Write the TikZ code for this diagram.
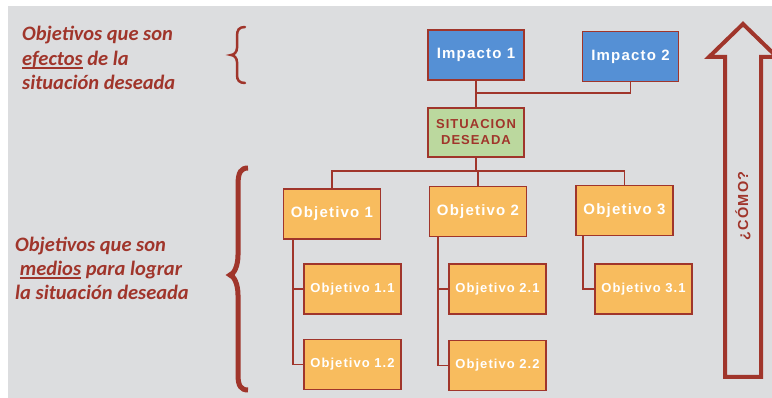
\documentclass[tikz,border=0pt]{standalone}
\usepackage{fontspec}
\setmainfont{Carlito}
\newfontfamily\boxfont[LetterSpace=8]{Liberation Sans}
\definecolor{fondo}{HTML}{DCDDDF}
\definecolor{rojo}{HTML}{A0352B}
\definecolor{azul}{HTML}{5590D5}
\definecolor{naranja}{HTML}{F8BC5E}
\definecolor{verde}{HTML}{BBD89E}
\newlength\anchosub
\newcommand\subrayado[1]{\settowidth\anchosub{#1}\rlap{\rule[-3.5pt]{\anchosub}{1.5pt}}#1}
\begin{document}
\begin{tikzpicture}[x=1pt, y=-1pt,
   caja/.style={draw=rojo, line width=1.3pt, inner sep=0pt, text=white,
                font=\boxfont\bfseries\fontsize{15}{16}\selectfont},
   impacto/.style={caja, fill=azul, minimum width=96pt, minimum height=50pt},
   objetivo/.style={caja, fill=naranja, minimum width=97pt, minimum height=50pt},
   subobjetivo/.style={objetivo, font=\boxfont\bfseries\fontsize{13}{14}\selectfont},
   enlace/.style={draw=rojo, line width=1.8pt},
   nota/.style={text=rojo, align=left, anchor=west, inner sep=0pt,
                font=\bfseries\itshape\fontsize{20.5}{24}\selectfont}]

\useasboundingbox (0,0) rectangle (772,398);
\fill[white] (0,0) rectangle (772,398);
\fill[fondo] (8,6) rectangle (772,398);

\node[impacto] (imp1) at (476,55) {Impacto 1};
\node[impacto] (imp2) at (630.5,56.5) {Impacto 2};
\node[caja, fill=verde, text=rojo, minimum width=96pt, minimum height=49pt, align=center,
      font=\boxfont\bfseries\fontsize{13}{16}\selectfont] (sit) at (476,132.5) {SITUACION\\DESEADA};

\node[objetivo] (obj1) at (332,214) {Objetivo 1};
\node[objetivo] (obj2) at (478,211.5) {Objetivo 2};
\node[objetivo] (obj3) at (624.5,210.5) {Objetivo 3};

\node[subobjetivo] (o11) at (352.5,289) {Objetivo 1.1};
\node[subobjetivo] (o12) at (352.5,364.5) {Objetivo 1.2};
\node[subobjetivo] (o21) at (497.5,289) {Objetivo 2.1};
\node[subobjetivo] (o22) at (497.5,365.5) {Objetivo 2.2};
\node[subobjetivo] (o31) at (643.5,289) {Objetivo 3.1};

\coordinate (union) at (476,93);
\coordinate (barra) at (476,171);

\draw[enlace] (imp1) -- (sit);
\draw[enlace] (imp2) |- (union);
\draw[enlace] (sit) -- (barra);
\draw[enlace] (obj1.north) -- (obj1.north |- barra) -- (obj3.north |- barra) -- (obj3.north);
\draw[enlace] (obj2.north) -- (obj2.north |- barra);

\draw[enlace] ([xshift=10pt]obj1.south west) |- (o12.west);
\draw[enlace] ([xshift=10pt]obj1.south west) |- (o11.west);
\draw[enlace] ([xshift=9pt]obj2.south west) |- (o22.west);
\draw[enlace] ([xshift=9pt]obj2.south west) |- (o21.west);
\draw[enlace] ([xshift=8pt]obj3.south west) |- (o31.west);

\node[nota, font=\bfseries\itshape\fontsize{20.5}{24.5}\selectfont] (efectos) at (22,58)
   {Objetivos que son\\\subrayado{efectos} de la\\situación deseada};
\node[nota] (medios) at (15,268) {Objetivos que son\\\ \subrayado{medios} para lograr\\la situación deseada};

\draw[rojo, line width=2.5pt, line cap=round]
   (245,27) .. controls (239,27) and (237,30) .. (237,36) -- (237,48)
   .. controls (237,52) and (234,55) .. (231,55)
   .. controls (234,55) and (237,58) .. (237,62) -- (237,75)
   .. controls (237,80) and (239,83) .. (245,83);
\draw[rojo, line width=5pt]
   (248,168) .. controls (241,168) and (238,172) .. (238,185) -- (238,255)
   .. controls (238,266) and (234,274) .. (230,275)
   .. controls (234,276) and (238,284) .. (238,295) -- (238,375)
   .. controls (238,386) and (241,390) .. (248,390);

\draw[rojo, line width=4pt, line join=miter]
   (743,24) -- (777,57) -- (761,57) -- (761,377) -- (725,377) -- (725,57) -- (709,57) -- cycle;
\node[rotate=90, text=rojo, font=\boxfont\bfseries\fontsize{14.5}{15}\selectfont] (como) at (743,206) {¿CÓMO?};

\end{tikzpicture}
\end{document}
